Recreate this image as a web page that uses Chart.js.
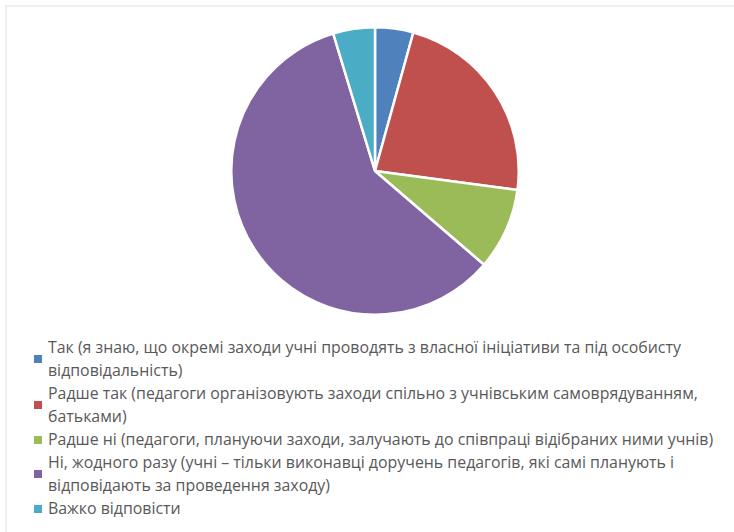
<!DOCTYPE html>
<html>
<head>
<meta charset="utf-8">
<script src="https://cdn.jsdelivr.net/npm/chart.js@4/dist/chart.umd.min.js"></script>
<style>
  html, body { margin: 0; padding: 0; background: #fff; }
  body { width: 734px; height: 532px; position: relative; overflow: hidden; font-family: "Open Sans", "Noto Sans", sans-serif; }
  #frame { position: absolute; left: 5px; top: 5px; width: 740px; height: 540px; border-top: 2px solid #efefef; border-left: 2px solid #efefef; }
  #wrap { position: absolute; left: 230px; top: 26px; width: 290px; height: 290px; }
  #legend { position: absolute; left: 34px; top: 336px; width: 692px; color: #595959; font-size: 15.9px; line-height: 23px; }
  .item { position: relative; padding-left: 14px; }
  .sw { position: absolute; left: 0; width: 8px; height: 8px; top: 50%; margin-top: -4px; }
</style>
</head>
<body>
<div id="frame"></div>
<div id="wrap"><canvas id="c"></canvas></div>
<div id="legend"></div>
<script>
const categories = [
  "Так (я знаю, що окремі заходи учні проводять з власної ініціативи та під особисту відповідальність)",
  "Радше так (педагоги організовують заходи спільно з учнівським самоврядуванням, батьками)",
  "Радше ні (педагоги, плануючи заходи, залучають до співпраці відібраних ними учнів)",
  "Ні, жодного разу (учні – тільки виконавці доручень педагогів, які самі планують і відповідають за проведення заходу)",
  "Важко відповісти"
];
const values = [4.3, 22.8, 9.2, 59.0, 4.7];
const colors = ["#4F81BD", "#C0504D", "#9BBB59", "#8064A2", "#4BACC6"];

new Chart(document.getElementById('c'), {
  type: 'pie',
  data: {
    labels: categories,
    datasets: [{
      data: values,
      backgroundColor: colors,
      borderColor: '#ffffff',
      borderWidth: 2.5
    }]
  },
  options: {
    responsive: true,
    maintainAspectRatio: false,
    animation: false,
    layout: { padding: 0 },
    plugins: { legend: { display: false }, tooltip: { enabled: false } }
  }
});

const leg = document.getElementById('legend');
categories.forEach((t, i) => {
  const d = document.createElement('div');
  d.className = 'item';
  const s = document.createElement('span');
  s.className = 'sw';
  s.style.background = colors[i];
  d.appendChild(s);
  d.appendChild(document.createTextNode(t));
  leg.appendChild(d);
});
</script>
</body>
</html>
